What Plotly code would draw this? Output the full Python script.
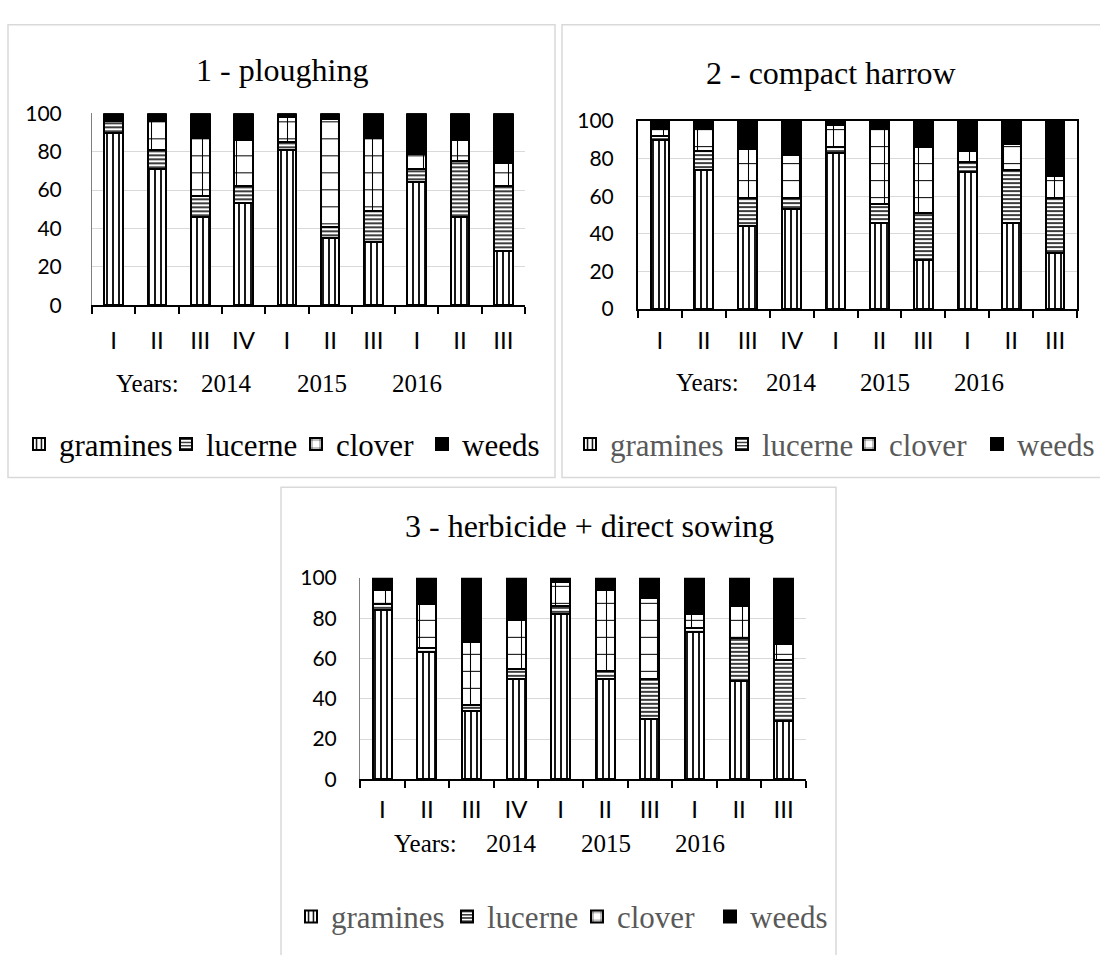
import plotly.graph_objects as go

W, H = 1100, 955

categories = ["2014 I", "2014 II", "2014 III", "2014 IV", "2015 I", "2015 II", "2015 III",
              "2016 I", "2016 II", "2016 III"]
tick_labels = ["I", "II", "III", "IV", "I", "II", "III", "I", "II", "III"]
series_names = ["gramines", "lucerne", "clover", "weeds"]

# panel 1 - ploughing
p1_gramines = [90, 71, 46, 53, 81, 35, 33, 64, 46, 28]
p1_lucerne = [6, 10, 11, 9, 4, 6, 16, 7, 29, 34]
p1_clover = [1, 15, 30, 24, 13, 56, 38, 8, 11, 12]
p1_weeds = [3, 4, 13, 14, 2, 3, 13, 21, 14, 26]

# panel 2 - compact harrow
p2_gramines = [90, 74, 44, 53, 83, 46, 26, 73, 46, 30]
p2_lucerne = [2, 10, 15, 6, 3, 10, 25, 5, 28, 29]
p2_clover = [4, 12, 26, 23, 12, 40, 35, 6, 14, 12]
p2_weeds = [4, 4, 15, 18, 2, 4, 14, 16, 12, 29]

# panel 3 - herbicide + direct sowing
p3_gramines = [84, 63, 34, 50, 82, 50, 30, 73, 49, 29]
p3_lucerne = [3, 2, 3, 5, 4, 4, 20, 2, 21, 30]
p3_clover = [7, 22, 31, 24, 12, 40, 40, 7, 16, 8]
p3_weeds = [6, 13, 32, 21, 2, 6, 10, 18, 14, 33]

titles = ["1 - ploughing", "2 - compact harrow", "3 - herbicide + direct sowing"]
years_label = "Years:"
years = ["2014", "2015", "2016"]


def px(x):
    return x / W


def py(y):
    return 1 - y / H


patterns = [
    dict(shape="|", size=6, solidity=0.3, fgcolor="black", bgcolor="white", fillmode="replace"),
    dict(shape="-", size=4, solidity=0.38, fgcolor="black", bgcolor="white", fillmode="replace"),
    dict(shape="+", size=17, solidity=0.12, fgcolor="black", bgcolor="white", fillmode="replace"),
    None,
]

panels = [
    dict(data=[p1_gramines, p1_lucerne, p1_clover, p1_weeds], xs="x", ys="y",
         xdom=(92, 525), ydom=(102, 299), box=(8, 11, 555, 476),
         title_xy=(282, 58), years_xy=(114, 379, [226, 322, 417]),
         legend_y=442, legend_x=[59, 206, 336, 462], legend_size=31,
         legend_color="black", frame=False, xstand=13, ystand=25),
    dict(data=[p2_gramines, p2_lucerne, p2_clover, p2_weeds], xs="x2", ys="y2",
         xdom=(638, 1077), ydom=(110, 303), box=(562, 11, 1110, 476),
         title_xy=(831, 61), years_xy=(674, 378, [791, 885, 979]),
         legend_y=442, legend_x=[610, 762, 889, 1017], legend_size=31,
         legend_color="#595959", frame=True, xstand=9, ystand=18),
    dict(data=[p3_gramines, p3_lucerne, p3_clover, p3_weeds], xs="x3", ys="y3",
         xdom=(360, 806), ydom=(579, 786), box=(281, 486, 836, 970),
         title_xy=(589, 526), years_xy=(392, 852, [511, 606, 700]),
         legend_y=927, legend_x=[331, 487, 617, 750], legend_size=31,
         legend_color="#595959", frame=False, xstand=8, ystand=18),
]

fig = go.Figure()
shapes = []
annotations = []
layout = dict(
    width=W, height=H, margin=dict(l=0, r=0, t=0, b=0),
    paper_bgcolor="white", plot_bgcolor="white",
    barmode="stack", bargap=0.57, showlegend=True,
    font=dict(family="Liberation Serif", color="black"),
)

leg_idx = 0
for i, p in enumerate(panels):
    n = "" if i == 0 else str(i + 1)
    for k, (name, vals, pat) in enumerate(zip(series_names, p["data"], patterns)):
        leg_idx += 1
        lname = "legend" if leg_idx == 1 else "legend%d" % leg_idx
        marker = dict(color="black" if pat is None else "white",
                      line=dict(color="black", width=2))
        if pat is not None:
            marker["pattern"] = pat
        fig.add_trace(go.Bar(x=categories, y=vals, name=name, xaxis=p["xs"], yaxis=p["ys"],
                             legend=lname, marker=marker, hoverinfo="x+y+name"))
        layout[lname] = dict(
            orientation="h", x=px(p["legend_x"][k] - 40), y=py(p["legend_y"]),
            xanchor="left", yanchor="middle",
            font=dict(family="Liberation Serif", size=p["legend_size"], color=p["legend_color"]),
            bgcolor="rgba(0,0,0,0)", itemwidth=30, borderwidth=0,
            itemclick=False, itemdoubleclick=False,
        )
    xd = p["xdom"]
    yd = p["ydom"]
    layout["xaxis" + n] = dict(
        domain=[px(xd[0]), px(xd[1])], anchor="y" + n, type="category",
        tickmode="array", tickvals=categories, ticktext=tick_labels,
        showline=True, linecolor="black", linewidth=2, mirror=p["frame"],
        ticks="outside", ticklen=7, tickwidth=1.5, tickcolor="black", tickson="boundaries",
        showgrid=False, ticklabelstandoff=p["xstand"],
        tickfont=dict(family="Lato", size=24, color="black"), fixedrange=True,
    )
    layout["yaxis" + n] = dict(
        domain=[py(yd[1]), py(yd[0])], anchor="x" + n, range=[0, 100], dtick=20,
        showgrid=True, gridcolor="#d9d9d9", gridwidth=1.2, zeroline=False,
        showline=True, linecolor="black" if p["frame"] else "#7f7f7f",
        linewidth=2 if p["frame"] else 1, mirror=p["frame"],
        ticks="", ticklabelstandoff=p["ystand"],
        tickfont=dict(family="Lato", size=21, color="black"), fixedrange=True,
    )
    b = p["box"]
    shapes.append(dict(type="rect", xref="paper", yref="paper",
                       x0=px(b[0]), x1=px(b[2]), y0=py(b[3]), y1=py(b[1]),
                       line=dict(color="#d9d9d9", width=1.5), fillcolor="rgba(0,0,0,0)",
                       layer="below"))
    tx, ty = p["title_xy"]
    annotations.append(dict(text=titles[i], x=px(tx), y=py(ty), xref="paper", yref="paper",
                            showarrow=False, xanchor="center", yanchor="middle",
                            font=dict(family="Liberation Serif", size=32, color="black")))
    yx, yy, ycs = p["years_xy"]
    annotations.append(dict(text=years_label, x=px(yx), y=py(yy), xref="paper", yref="paper",
                            showarrow=False, xanchor="left", yanchor="middle",
                            font=dict(family="Liberation Serif", size=25, color="black")))
    for yr, cx in zip(years, ycs):
        annotations.append(dict(text=yr, x=px(cx), y=py(yy), xref="paper", yref="paper",
                                showarrow=False, xanchor="center", yanchor="middle",
                                font=dict(family="Liberation Serif", size=25, color="black")))

layout["shapes"] = shapes
layout["annotations"] = annotations
fig.update_layout(**layout)

fig.write_html("out.html", config={"displayModeBar": False},
               post_script="document.body.style.margin='0px';")
